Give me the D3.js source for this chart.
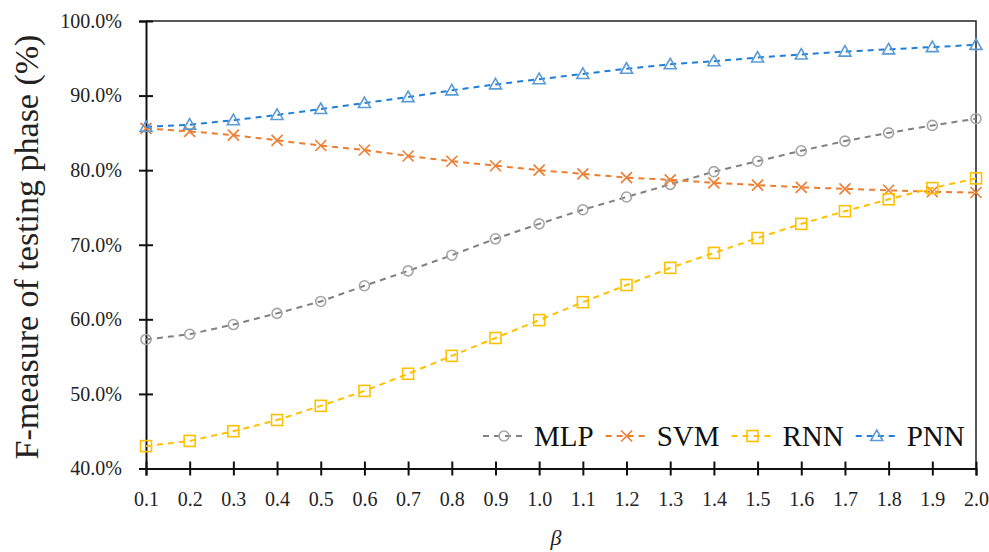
<!DOCTYPE html>
<html>
<head>
<meta charset="utf-8">
<script src="https://cdn.jsdelivr.net/npm/d3@7/dist/d3.min.js"></script>
<style>
  html, body { margin: 0; padding: 0; background: #fff; }
  svg { display: block; font-family: "Liberation Serif", "DejaVu Serif", serif; }
</style>
</head>
<body>
<div class="chart"></div>
<script>
"use strict";

var betas = [0.1, 0.2, 0.3, 0.4, 0.5, 0.6, 0.7, 0.8, 0.9, 1.0, 1.1, 1.2, 1.3, 1.4, 1.5, 1.6, 1.7, 1.8, 1.9, 2.0];
var mlp = [57.3, 58.0, 59.3, 60.8, 62.4, 64.5, 66.5, 68.6, 70.8, 72.8, 74.7, 76.4, 78.1, 79.8, 81.2, 82.6, 83.9, 85.0, 86.0, 86.9];
var svm = [85.6, 85.2, 84.7, 84.0, 83.3, 82.7, 81.9, 81.2, 80.6, 80.0, 79.5, 79.0, 78.7, 78.3, 78.0, 77.7, 77.5, 77.3, 77.1, 77.0];
var rnn = [43.0, 43.7, 45.0, 46.5, 48.4, 50.4, 52.7, 55.1, 57.5, 59.9, 62.3, 64.6, 66.9, 68.9, 70.9, 72.8, 74.5, 76.1, 77.6, 78.9];
var pnn = [85.8, 86.1, 86.7, 87.4, 88.2, 89.0, 89.8, 90.7, 91.5, 92.2, 92.9, 93.6, 94.2, 94.6, 95.1, 95.5, 95.9, 96.2, 96.5, 96.8];
var yTicks = [40, 50, 60, 70, 80, 90, 100];

var series = [
  { name: 'MLP', values: mlp, line: '#808080', mark: '#a5a5a5', shape: 'circle' },
  { name: 'SVM', values: svm, line: '#ed7d31', mark: '#ed7d31', shape: 'cross' },
  { name: 'RNN', values: rnn, line: '#ffc000', mark: '#ffc000', shape: 'square' },
  { name: 'PNN', values: pnn, line: '#1f7fd8', mark: '#5b9bd5', shape: 'triangle' }
];

var W = 989, H = 552;
var mLeft = 146, mRight = 976, mTop = 21, mBottom = 468.5;

var svg = d3.select('.chart').append('svg').attr('width', W).attr('height', H).attr('viewBox', '0 0 ' + W + ' ' + H);

var x = d3.scaleLinear().domain([0.1, 2.0]).range([mLeft, mRight]);
var y = d3.scaleLinear().domain([40, 100]).range([mBottom, mTop]);

// frame (top + right)
svg.append('path')
  .attr('d', 'M' + mLeft + ',' + mTop + 'H' + mRight + 'V' + mBottom)
  .attr('fill', 'none').attr('stroke', '#222').attr('stroke-width', 1.5);

// axes, ticks cross the axis line
var xAxis = svg.append('g').attr('transform', 'translate(0,' + mBottom + ')')
  .call(d3.axisBottom(x).tickValues(betas).tickFormat(d3.format('.1f')).tickSize(7).tickPadding(16));
xAxis.selectAll('.tick line').attr('y1', -7);

var yAxis = svg.append('g').attr('transform', 'translate(' + mLeft + ',0)')
  .call(d3.axisLeft(y).tickValues(yTicks).tickFormat(function (d) { return d3.format('.1%')(d / 100); }).tickSize(7).tickPadding(17));
yAxis.selectAll('.tick line').attr('x1', 7);

svg.selectAll('.domain').attr('stroke', '#111').attr('stroke-width', 2);
svg.selectAll('.tick line').attr('stroke', '#111').attr('stroke-width', 2);
xAxis.attr('font-family', null);
yAxis.attr('font-family', null);
svg.selectAll('.tick text').attr('font-size', 20).attr('fill', '#222');

// axis titles
svg.append('text')
  .attr('transform', 'translate(38,247) rotate(-90)')
  .attr('text-anchor', 'middle').attr('font-size', 34).attr('fill', '#222')
  .text('F-measure of testing phase (%)');

svg.append('text')
  .attr('x', 556).attr('y', 545)
  .attr('text-anchor', 'middle').attr('font-size', 22).attr('font-style', 'italic').attr('fill', '#222')
  .text('β');

function drawMarker(g, shape, color) {
  var m;
  if (shape === 'circle') {
    m = g.append('circle').attr('r', 5);
  } else if (shape === 'square') {
    m = g.append('rect').attr('x', -5.5).attr('y', -5.5).attr('width', 11).attr('height', 11);
  } else if (shape === 'triangle') {
    m = g.append('path').attr('d', 'M0,-6L6,4.5L-6,4.5Z');
  } else {
    m = g.append('path').attr('d', 'M-5.5,-5.5L5.5,5.5M-5.5,5.5L5.5,-5.5');
  }
  m.attr('fill', 'none').attr('stroke', color).attr('stroke-width', 1.6);
}

var line = d3.line()
  .x(function (d, i) { return x(betas[i]); })
  .y(function (d) { return y(d); });

series.forEach(function (s) {
  svg.append('path')
    .datum(s.values)
    .attr('d', line)
    .attr('fill', 'none')
    .attr('stroke', s.line)
    .attr('stroke-width', 2)
    .attr('stroke-dasharray', '6,5');

  svg.append('g').selectAll('g')
    .data(s.values)
    .enter().append('g')
    .attr('transform', function (d, i) { return 'translate(' + x(betas[i]) + ',' + y(d) + ')'; })
    .each(function () { drawMarker(d3.select(this), s.shape, s.mark); });
});

// legend
var lx = 483, ly = 436;
series.forEach(function (s) {
  var g = svg.append('g').attr('transform', 'translate(' + lx + ',' + ly + ')');
  g.append('line').attr('x1', 0).attr('x2', 42).attr('y1', 0).attr('y2', 0)
    .attr('stroke', s.line).attr('stroke-width', 2).attr('stroke-dasharray', '6,5');
  var mg = g.append('g').attr('transform', 'translate(21,0)');
  drawMarker(mg, s.shape, s.mark);
  var t = g.append('text').attr('x', 51).attr('y', 10).attr('font-size', 29).attr('fill', '#111').text(s.name);
  lx += 51 + t.node().getComputedTextLength() + 12;
});
</script>
</body>
</html>
